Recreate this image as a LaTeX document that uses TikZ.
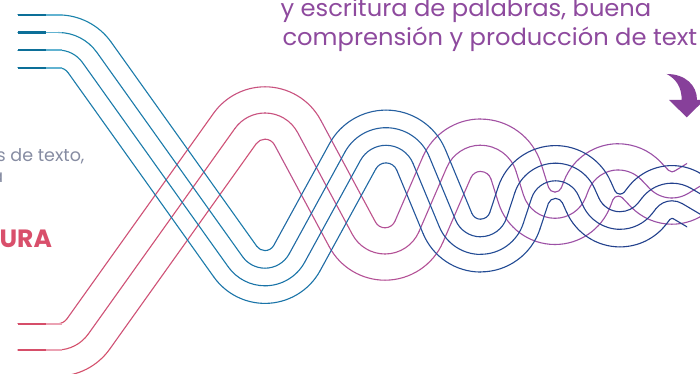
\documentclass[tikz,border=0pt]{standalone}
\usepackage{fontspec}
\setmainfont{Poppins}
\newfontfamily\titlefont{Poppins}[FakeStretch=1.03]

\definecolor{txtpurple}{HTML}{8E4A9E}
\definecolor{txtgray}{HTML}{868CA2}
\definecolor{txtred}{HTML}{D94F6B}
\definecolor{arrowc}{HTML}{87409A}
% blue ribbon colours (start, T1, P1, T2, P2, T3, P3, T4)
\definecolor{bA}{HTML}{1B83AC}
\definecolor{bB}{HTML}{1A74A8}
\definecolor{bC}{HTML}{2660A0}
\definecolor{bD}{HTML}{234C95}
\definecolor{bE}{HTML}{24448F}
\definecolor{bF}{HTML}{23418D}
\definecolor{bG}{HTML}{23408D}
\definecolor{bH}{HTML}{23408D}
\definecolor{bstubdark}{HTML}{0C6F98}
\definecolor{bstublight}{HTML}{62B3D1}
% pink ribbon colours (start, P1, T1, P2, T2, P3, T3, P4)
\definecolor{pA}{HTML}{D4506C}
\definecolor{pB}{HTML}{C9527F}
\definecolor{pC}{HTML}{B45196}
\definecolor{pD}{HTML}{A352A3}
\definecolor{pE}{HTML}{9C50A5}
\definecolor{pF}{HTML}{9A50A6}
\definecolor{pG}{HTML}{9A50A6}
\definecolor{pH}{HTML}{9A50A6}
\definecolor{pstubdark}{HTML}{D64E69}
\definecolor{pstublight}{HTML}{EBA2B3}

% solve straight-part angle and length between two extremes
% #1 dx, #2 dy, #3 sum of radii, #4 name
\newcommand\solveseg[4]{%
  \pgfmathsetmacro\sgR{veclen(#1,(#3)-(#2))}%
  \pgfmathsetmacro\sgP{atan2((#3)-(#2),#1)}%
  \pgfmathsetmacro\sgT{asin((#3)/\sgR)-\sgP}%
  \pgfmathsetmacro\sgL{((#1)-(#3)*sin(\sgT))/cos(\sgT)}%
  \expandafter\global\expandafter\let\csname Th#4\endcsname\sgT
  \expandafter\global\expandafter\let\csname Lg#4\endcsname\sgL
}
\solveseg{121}{140.5}{74.4}{Bb}
\solveseg{94.7}{109}{74}{Bc}
\solveseg{74.8}{73.5}{70}{Bd}
\solveseg{64.5}{48.5}{66}{Be}
\solveseg{52}{28.5}{61}{Bf}
\solveseg{50}{20}{59}{Bg}
\solveseg{120}{141}{74}{Pb}
\solveseg{95.7}{108.7}{74}{Pc}
\solveseg{74.3}{73}{70}{Pd}
\solveseg{63.3}{48.3}{65}{Pe}
\solveseg{53.7}{28}{63}{Pf}
\solveseg{50}{20}{61}{Pg}
\pgfmathsetmacro\bLa{(235.7-74.8*(1-cos(54.5)))/sin(54.5)}
\pgfmathsetmacro\bxa{265-74.8*sin(54.5)-\bLa*cos(54.5)}
\pgfmathsetmacro\pLa{(237-75.2*(1-cos(54.5)))/sin(54.5)}
\pgfmathsetmacro\pxa{265-75.2*sin(54.5)-\pLa*cos(54.5)}

% piece from a peak (heading 0) down to a trough (heading 0)
% #1 x, #2 Y, #3 offset, #4 rho here, #5 rho next, #6 angle, #7 length, #8 colour A, #9 colour B
\newcommand\pdown[9]{%
  \draw[#8] (#1,{#2+(#3)}) arc[start angle=90, delta angle=-#6, radius={#4+(#3)}] coordinate (q1);
  \draw[#8!50!#9] (q1) -- ++(-#6:#7) coordinate (q2);
  \draw[#9] (q2) arc[start angle=-#6-90, delta angle=#6, radius={#5-(#3)}];
}
% piece from a trough up to a peak
\newcommand\pup[9]{%
  \draw[#8] (#1,{#2+(#3)}) arc[start angle=-90, delta angle=#6, radius={#4-(#3)}] coordinate (q1);
  \draw[#8!50!#9] (q1) -- ++(#6:#7) coordinate (q2);
  \draw[#9] (q2) arc[start angle=#6+90, delta angle=-#6, radius={#5+(#3)}];
}

\begin{document}
\begin{tikzpicture}[x=1pt,y=1pt,line width=1.1pt,line cap=round]
\useasboundingbox (0,0) rectangle (700,374);
\fill[white] (0,0) rectangle (700,374);
\clip (0,0) rectangle (700,374);

% ---------- pink / purple ribbon ----------
\foreach \d/\xe in {26.2/687,0/700,-26.2/700}{
  \draw[pA] (18,{24+(\d)}) -- (\pxa,{24+(\d)});
  \pup{\pxa}{24}{\d}{38.2}{37}{54.5}{\pLa}{pA}{pB}
  \pdown{265}{261}{\d}{37}{37}{\ThPb}{\LgPb}{pB}{pC}
  \pup{385}{120}{\d}{37}{37}{\ThPc}{\LgPc}{pC}{pD}
  \pdown{480.7}{228.7}{\d}{37}{33}{\ThPd}{\LgPd}{pD}{pE}
  \pup{555}{155.7}{\d}{33}{32}{\ThPe}{\LgPe}{pE}{pF}
  \pdown{618.3}{204}{\d}{32}{31}{\ThPf}{\LgPf}{pF}{pG}
  \begin{scope}
    \clip (0,0) rectangle (\xe,374);
    \pup{672}{176}{\d}{31}{30}{\ThPg}{\LgPg}{pG}{pH}
  \end{scope}
}

% ---------- blue ribbon ----------
\foreach \d/\xe in {26.4/700,8.8/700,-8.8/700,-26.4/687}{
  \draw[bA] (18,{332.7+(\d)}) -- (\bxa,{332.7+(\d)});
  \pdown{\bxa}{332.7}{\d}{38.4}{36.4}{54.5}{\bLa}{bA}{bB}
  \pup{265}{97}{\d}{36.4}{38}{\ThBb}{\LgBb}{bB}{bC}
  \pdown{386}{237.5}{\d}{38}{36}{\ThBc}{\LgBc}{bC}{bD}
  \pup{480.7}{128.5}{\d}{36}{34}{\ThBd}{\LgBd}{bD}{bE}
  \pdown{555.5}{202}{\d}{34}{32}{\ThBe}{\LgBe}{bE}{bF}
  \pup{620}{153.5}{\d}{32}{29}{\ThBf}{\LgBf}{bF}{bG}
  \begin{scope}
    \clip (0,0) rectangle (\xe,374);
    \pdown{672}{182}{\d}{29}{30}{\ThBg}{\LgBg}{bG}{bH}
  \end{scope}
}

% ---------- start tabs ----------
\foreach \d in {26.4,8.8,-8.8,-26.4}{
  \draw[bstubdark,line width=2.2pt,line cap=butt] (18,{332.7+(\d)}) -- (46,{332.7+(\d)});
  \draw[bstublight,line width=1.9pt,line cap=butt] (46,{332.7+(\d)}) -- (62,{332.7+(\d)});
}
\foreach \d in {26.2,0,-26.2}{
  \draw[pstubdark,line width=2.2pt,line cap=butt] (18,{24+(\d)}) -- (46,{24+(\d)});
  \draw[pstublight,line width=1.9pt,line cap=butt] (46,{24+(\d)}) -- (62,{24+(\d)});
}

% ---------- texts ----------
\node[anchor=base west,inner sep=0,text=txtpurple,font=\titlefont\fontsize{23.5}{28}\selectfont] (t1) at (280,357.3) {y escritura de palabras, buena};
\node[anchor=base west,inner sep=0,text=txtpurple,font=\titlefont\fontsize{23.5}{28}\selectfont] (t2) at (282,328.3) {comprensión y producción de text};
\node[anchor=base east,inner sep=0,text=txtgray,font=\fontsize{17.5}{21}\selectfont] (l1) at (85,212) {s de texto,};
\node[anchor=base east,inner sep=0,text=txtgray,font=\fontsize{17.5}{21}\selectfont] (l2) at (3.8,191) {a};
\node[anchor=base east,inner sep=0,text=txtred,font=\fontsize{25}{29}\selectfont\bfseries] (l3) at (52.5,126) {URA};

% ---------- curved arrow ----------
\fill[arrowc] (666.7,300) .. controls (685,300) and (697,289) .. (697,274)
  -- (704.4,274) -- (686.7,256.7) -- (669,274) -- (681.7,274)
  .. controls (681.7,287) and (676,295) .. (666.7,300) -- cycle;
\end{tikzpicture}
\end{document}
